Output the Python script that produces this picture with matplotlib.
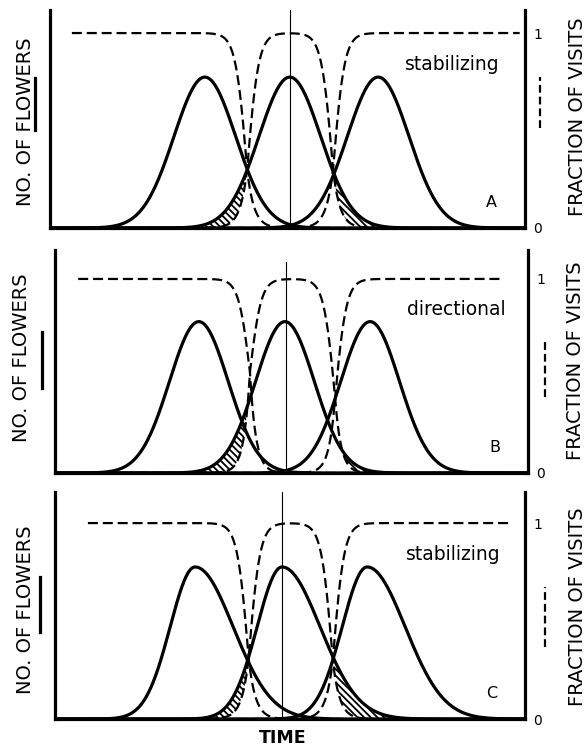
import numpy as np
import matplotlib
matplotlib.use("Agg")
import matplotlib.pyplot as plt
from matplotlib.lines import Line2D

# --- values (time axis 0-100, fraction-of-visits scale 0-1) ---
panel_tags = ["A", "B", "C"]
panel_modes = ["stabilizing", "directional", "stabilizing"]

# flowering peaks of the three species
peaks_A = [32.6, 50.5, 69.1]
peaks_B = [30.4, 48.6, 66.6]
peaks_C = [29.8, 48.3, 66.4]
peak_height = [0.774, 0.78, 0.776]
spread_early = [6.5, 6.2, 5.3]   # rising side of each bell
spread_late = [6.5, 6.2, 8.1]    # falling side of each bell

# where the pollinators switch species: time and visit fraction at the switch
switch_time_A = [41.5, 59.6]
switch_time_B = [41.2, 59.2]
switch_time_C = [41.2, 59.1]
switch_level_A = [0.30, 0.30]
switch_level_B = [0.52, 0.39]
switch_level_C = [0.31, 0.30]
switch_top = [2.4, 2.4, 2.4]     # how wide the shoulder near 1 is
switch_tail = [1.45, 1.25, 1.45]  # how wide the tail near 0 is
visit_span = [(4.6, 98.9), (4.9, 94.1), (7.0, 96.8)]

marker_time = [50.5, 48.8, 48.3]
marker_top = [1.0, 0.946, 1.0]

peaks = [peaks_A, peaks_B, peaks_C]
switch_time = [switch_time_A, switch_time_B, switch_time_C]
switch_level = [switch_level_A, switch_level_B, switch_level_C]

# layout (figure fraction)
boxes = [[0.0852, 0.6956, 0.809, 0.291],
         [0.0937, 0.3685, 0.806, 0.2977],
         [0.0937, 0.0400, 0.8007, 0.303]]
ytops = [1.118, 1.149, 1.158]
left_label = [(0.044, 0.837), (0.036, 0.522), (0.043, 0.186)]
right_label = [(0.983, 0.844), (0.980, 0.519), (0.983, 0.190)]
solid_key = [(0.0596, 0.826, 0.896), (0.0716, 0.482, 0.557), (0.068, 0.156, 0.230)]
dash_key = [(0.920, 0.829, 0.897), (0.928, 0.470, 0.546), (0.928, 0.136, 0.216)]

plt.rcParams["hatch.linewidth"] = 1.3
plt.rcParams["font.family"] = ["DejaVu Sans"]


def bell(t, c, sl, sr, h):
    return np.where(t < c, h * np.exp(-(t - c) ** 2 / (2 * sl ** 2)),
                    h * np.exp(-(t - c) ** 2 / (2 * sr ** 2)))


def drop(t, t0, v0, a, b):
    # visit fraction falling from 1 to 0 through (t0, v0)
    up = v0 + (1 - v0) * np.tanh(np.clip(t0 - t, 0, None) / a)
    down = v0 * np.exp(-np.clip(t - t0, 0, None) / b)
    return np.where(t < t0, up, down)


def climb(t, t0, v0, a, b):
    return drop(2 * t0 - t, t0, v0, a, b)


fig = plt.figure(figsize=(5.87, 7.49), dpi=100)
t = np.linspace(0, 100, 2001)
dash = (0, (4.5, 2.2))

for i in range(3):
    ax = fig.add_axes(boxes[i])
    ax.set_xlim(0, 100)
    ax.set_ylim(0, ytops[i])
    h = peak_height[i]
    for c in peaks[i]:
        y = bell(t, c, spread_early[i], spread_late[i], h)
        ax.plot(t, y, color="black", lw=2.3, solid_capstyle="round", zorder=4)

    (ta, tb), (va, vb) = switch_time[i], switch_level[i]
    a, b = switch_top[i], switch_tail[i]
    tv = t[(t >= visit_span[i][0]) & (t <= visit_span[i][1])]
    d1 = drop(tv, ta, va, a, b)
    d2 = climb(tv, ta, va, a, b) * drop(tv, tb, vb, a, b)
    d3 = climb(tv, tb, vb, a, b)
    for d in (d1, d2, d3):
        ax.plot(tv, d, color="black", lw=1.6, linestyle=dash, zorder=3)

    # flowers of the middle species missing visits
    s2 = bell(tv, peaks[i][1], spread_early[i], spread_late[i], h)
    ax.fill_between(tv, d2, s2, where=(s2 > d2) & (s2 > 0.008),
                    facecolor="none", edgecolor="black", hatch="\\\\\\\\\\",
                    linewidth=0, zorder=2)

    ax.axvline(marker_time[i], ymin=0, ymax=marker_top[i], color="black",
               lw=0.8, zorder=1)

    ax.spines["top"].set_visible(False)
    for side in ("left", "bottom", "right"):
        ax.spines[side].set_linewidth(2.3)
    ax.set_xticks([])
    ax.yaxis.tick_right()
    ax.set_yticks([0, 1])
    ax.set_yticklabels(["0", "1"], fontsize=10)
    ax.tick_params(axis="y", length=0, pad=6)

    ax.text(84.8, 0.84, panel_modes[i], fontsize=13.5, ha="center",
            va="center")
    ax.text(93.0, 0.13, panel_tags[i], fontsize=11.5, ha="center", va="center")

    # axis titles and line-style keys
    fig.text(*left_label[i], "NO. OF FLOWERS", rotation=90, fontsize=14,
             ha="center", va="center")
    x, y0, y1 = solid_key[i]
    fig.add_artist(Line2D([x, x], [y0, y1], color="black", lw=2.3))
    fig.text(*right_label[i], "FRACTION OF VISITS", rotation=90, fontsize=14,
             ha="center", va="center")
    x, y0, y1 = dash_key[i]
    fig.add_artist(Line2D([x, x], [y0, y1], color="black", lw=1.6,
                          linestyle=(0, (3.5, 1.8))))

fig.text(0.482, 0.015, "TIME", fontsize=12.5, fontweight="bold",
         ha="center", va="center")

fig.savefig("out.png", dpi=100)
